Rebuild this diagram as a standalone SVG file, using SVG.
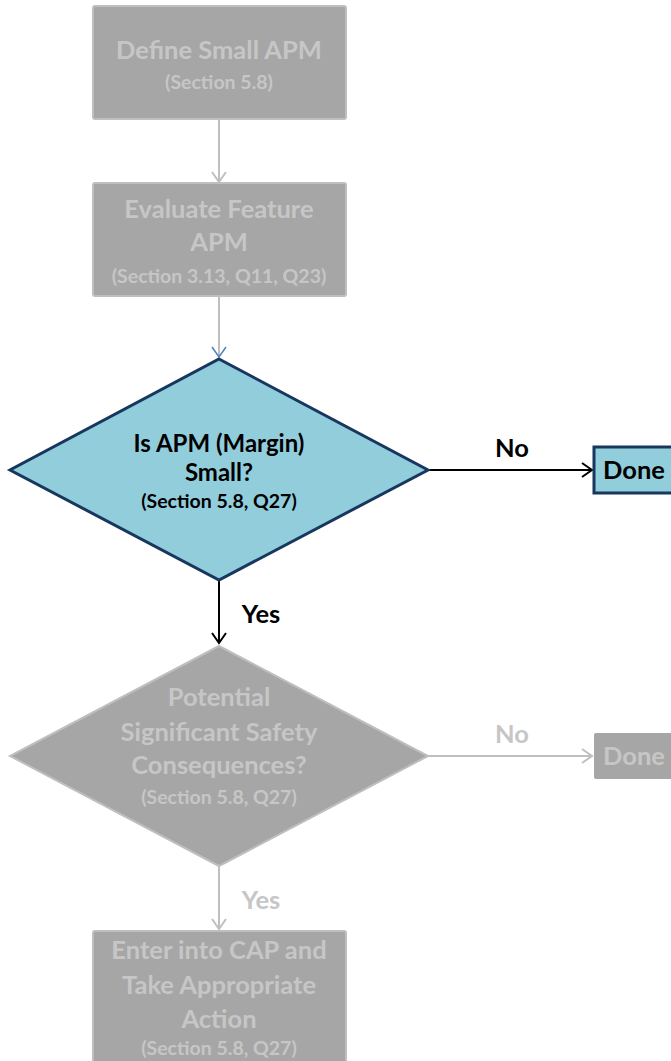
<svg xmlns="http://www.w3.org/2000/svg" width="671" height="1061" viewBox="0 0 671 1061">
  <style>
    text { font-family: Lato, "Liberation Sans", sans-serif; font-weight: bold; text-anchor: middle; }
    .gbox { fill: #a6a6a6; stroke: #bfbfbf; stroke-width: 2; }
    .bbox { fill: #92cddc; stroke: #17375e; stroke-width: 3; }
    .gt { fill: #c6c6c6; }
    .bt { fill: #000000; }
    .big { font-size: 25.5px; }
    .mid { font-size: 24px; }
    .small { font-size: 19.5px; }
    .gline { stroke: #bfbfbf; stroke-width: 2; fill: none; }
    .bline { stroke: #000000; stroke-width: 2; fill: none; }
  </style>
  <defs>
    <marker id="ag" markerUnits="userSpaceOnUse" markerWidth="14" markerHeight="18" refX="12" refY="9" orient="auto">
      <path d="M2,2 L12,9 L2,16" fill="none" stroke="#bfbfbf" stroke-width="2"/>
    </marker>
    <marker id="ab" markerUnits="userSpaceOnUse" markerWidth="14" markerHeight="18" refX="12" refY="9" orient="auto">
      <path d="M2,2 L12,9 L2,16" fill="none" stroke="#000000" stroke-width="2"/>
    </marker>
    <marker id="abl" markerUnits="userSpaceOnUse" markerWidth="14" markerHeight="18" refX="12" refY="9" orient="auto">
      <path d="M2,2 L12,9 L2,16" fill="none" stroke="#4f81bd" stroke-width="1.5"/>
    </marker>
  </defs>

  <g id="connectors">
    <line class="gline" x1="219" y1="120" x2="219" y2="182" marker-end="url(#ag)"/>
    <line class="gline" x1="219" y1="297" x2="219" y2="357" marker-end="url(#abl)"/>
    <line class="bline" x1="428" y1="470" x2="592" y2="470" marker-end="url(#ab)"/>
    <line class="bline" x1="219" y1="581" x2="219" y2="643" marker-end="url(#ab)"/>
    <line class="gline" x1="428" y1="756" x2="592" y2="756" marker-end="url(#ag)"/>
    <line class="gline" x1="219" y1="867" x2="219" y2="929" marker-end="url(#ag)"/>
    <text class="bt big" x="512" y="457">No</text>
    <text class="bt big" x="261" y="623">Yes</text>
    <text class="gt big" x="512" y="743">No</text>
    <text class="gt big" x="261" y="909">Yes</text>
  </g>

  <g id="define-small-apm">
    <rect class="gbox" x="93" y="6" width="253" height="113" rx="2"/>
    <text class="gt big" x="219" y="59">Define Small APM</text>
    <text class="gt small" x="219" y="89">(Section 5.8)</text>
  </g>

  <g id="evaluate-feature-apm">
    <rect class="gbox" x="93" y="183" width="253" height="113" rx="2"/>
    <text class="gt big" x="219" y="218">Evaluate Feature</text>
    <text class="gt big" x="219" y="251">APM</text>
    <text class="gt small" x="219" y="283">(Section 3.13, Q11, Q23)</text>
  </g>

  <g id="is-apm-small">
    <polygon class="bbox" points="219,359 428,470 219,580 10,470"/>
    <text class="bt mid" x="219" y="452">Is APM (Margin)</text>
    <text class="bt mid" x="219" y="481">Small?</text>
    <text class="bt small" x="219" y="508">(Section 5.8, Q27)</text>
  </g>

  <g id="done-1">
    <rect class="bbox" x="594" y="447" width="90" height="46"/>
    <text class="bt big" x="634" y="479">Done</text>
  </g>

  <g id="potential-safety">
    <polygon class="gbox" points="219,646 428,756 219,866 10,756"/>
    <text class="gt big" x="219" y="706">Potential</text>
    <text class="gt big" x="219" y="741">Significant Safety</text>
    <text class="gt big" x="219" y="774">Consequences?</text>
    <text class="gt small" x="219" y="804">(Section 5.8, Q27)</text>
  </g>

  <g id="done-2">
    <rect x="594" y="733" width="90" height="46" rx="2" fill="#a6a6a6"/>
    <text class="gt big" x="634" y="765">Done</text>
  </g>

  <g id="enter-into-cap">
    <rect class="gbox" x="93" y="931" width="253" height="140" rx="2"/>
    <text class="gt big" x="219" y="959">Enter into CAP and</text>
    <text class="gt big" x="219" y="994">Take Appropriate</text>
    <text class="gt big" x="219" y="1028">Action</text>
    <text class="gt small" x="219" y="1055">(Section 5.8, Q27)</text>
  </g>
</svg>
